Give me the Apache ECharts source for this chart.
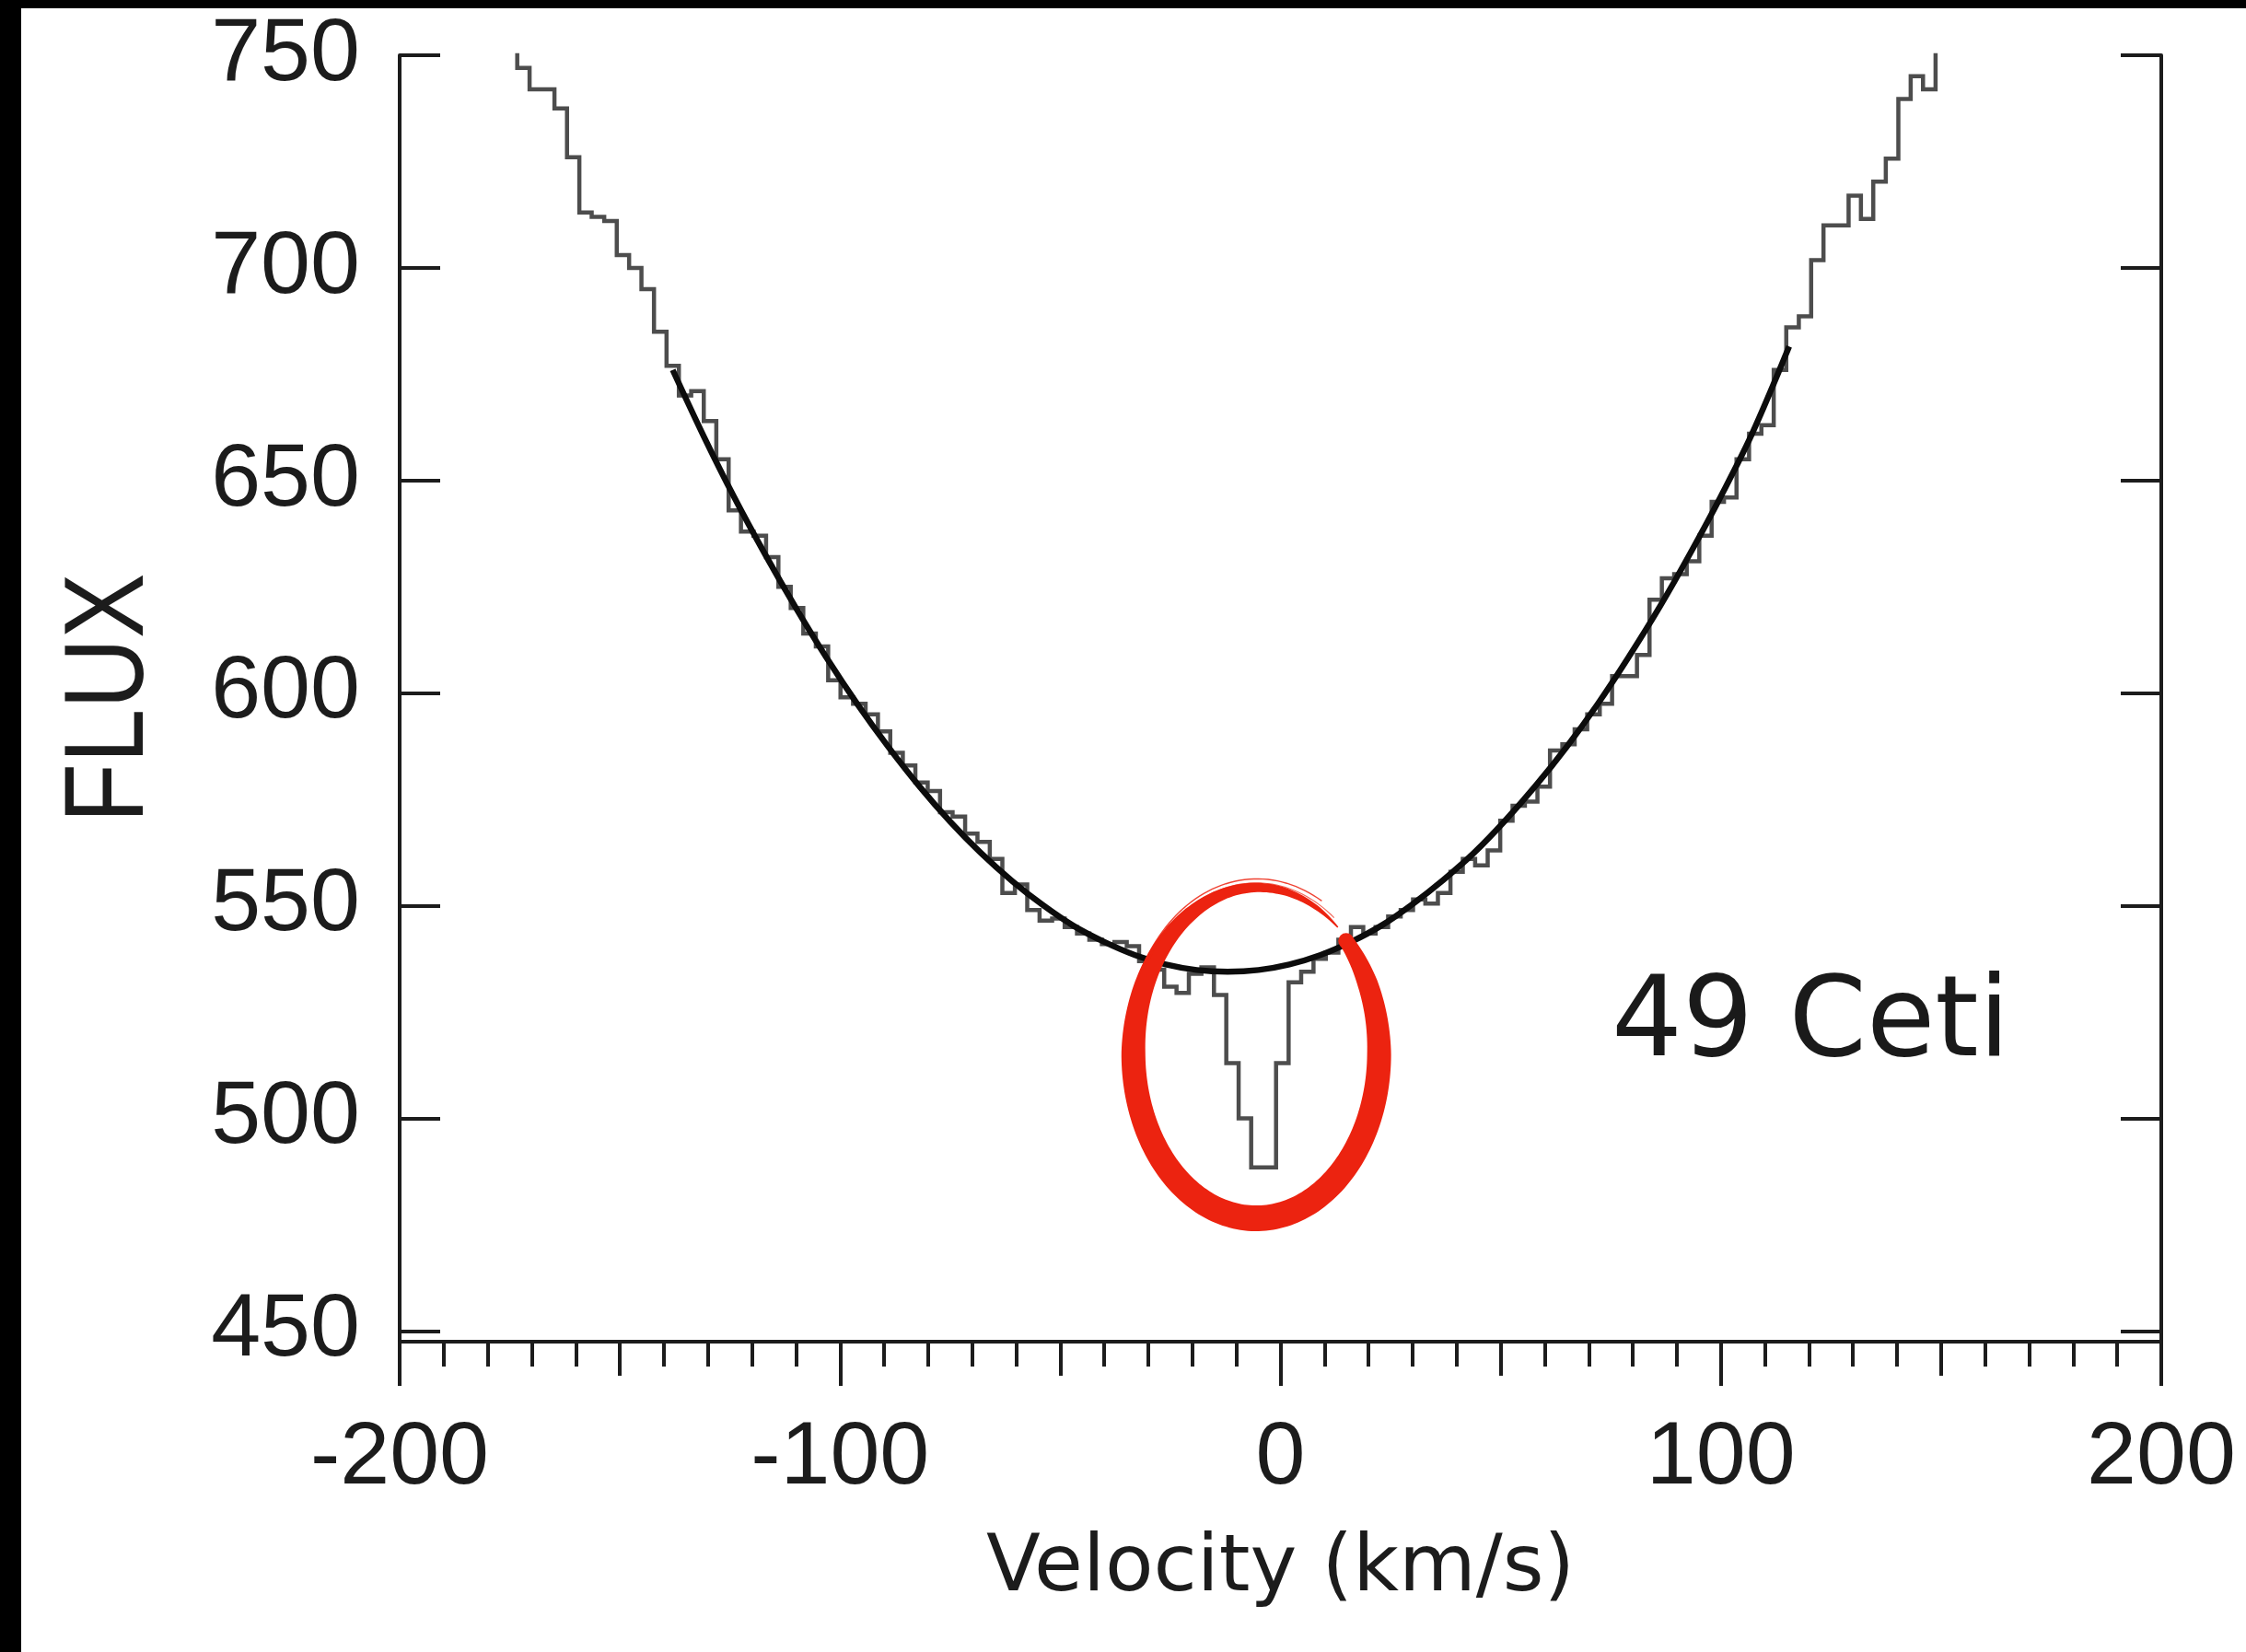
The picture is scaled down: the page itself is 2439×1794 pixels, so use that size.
<!DOCTYPE html>
<html>
<head>
<meta charset="utf-8">
<title>49 Ceti</title>
<script src="https://cdn.jsdelivr.net/npm/echarts@6/dist/echarts.min.js"></script>
<style>
  html, body { margin: 0; padding: 0; background: #ffffff; overflow: hidden; width: 2439px; height: 1794px; }
  #chart { position: absolute; left: 0; top: 0; width: 2439px; height: 1794px; }
  .band { position: absolute; background: #000000; }
</style>
</head>
<body>
<div id="chart"></div>
<div class="band" style="left:0;top:0;width:2439px;height:9px"></div>
<div class="band" style="left:0;top:0;width:23px;height:1794px"></div>
<script>
// Spectrum bins: velocity (km/s, bin centres) and measured flux
const velocity = [
  -174.7, -171.9, -169.1, -166.3, -163.4, -160.6, -157.8, -155.0, -152.1, -149.3,
  -146.5, -143.7, -140.8, -138.0, -135.2, -132.4, -129.5, -126.7, -123.9, -121.1,
  -118.2, -115.4, -112.6, -109.8, -106.9, -104.1, -101.3, -98.5, -95.6, -92.8,
  -90.0, -87.2, -84.3, -81.5, -78.7, -75.9, -73.0, -70.2, -67.4, -64.6,
  -61.7, -58.9, -56.1, -53.3, -50.4, -47.6, -44.8, -42.0, -39.1, -36.3,
  -33.5, -30.7, -27.8, -25.0, -22.2, -19.4, -16.5, -13.7, -10.9, -8.1,
  -5.2, -2.4, 0.4, 3.3, 6.1, 8.9, 11.7, 14.6, 17.4, 20.2,
  23.0, 25.9, 28.7, 31.5, 34.3, 37.2, 40.0, 42.8, 45.6, 48.5,
  51.3, 54.1, 56.9, 59.8, 62.6, 65.4, 68.2, 71.1, 73.9, 76.7,
  79.5, 82.4, 85.2, 88.0, 90.8, 93.7, 96.5, 99.3, 102.1, 105.0,
  107.8, 110.6, 113.4, 116.3, 119.1, 121.9, 124.7, 127.6, 130.4, 133.2,
  136.0, 138.9, 141.7, 144.5, 147.3, 150.2
];
const flux = [
  757, 747, 742, 742, 737.5, 726, 713, 712, 711, 703,
  700, 695, 685, 677, 670, 671, 664, 655, 643, 638,
  637, 632, 625, 620, 614, 611, 603, 599, 597.5, 595,
  591, 586, 583, 579, 577, 572, 571, 567, 565, 561,
  553, 555, 549, 546.5, 547, 545, 543.5, 542, 541, 541.5,
  540.5, 537, 535, 531, 529.5, 534, 535.5, 529, 513, 500,
  488.5, 488.5, 513, 532, 534.5, 537.5, 539, 542, 545, 543.5,
  545, 547.5, 549, 551.5, 550.5, 553, 558, 561, 559.5, 563,
  570, 573.5, 574.5, 578, 586.5, 588, 591.5, 595, 597.5, 604,
  604, 609, 622, 627, 628, 631, 637, 645, 646, 655,
  661, 663, 676, 686, 688.6, 701.8, 710, 710, 717, 711.5,
  720.3, 725.7, 739.7, 745.1, 742, 758
];

// Smooth continuum fit through the line profile
const fitVelocity = [
  -138, -131, -124, -117, -110, -103, -96, -89, -82, -75,
  -68, -61, -54, -47, -40, -33, -26, -19, -12, -5,
  2, 9, 16, 23, 30, 37, 44, 51, 58, 65,
  72, 79, 86, 93, 100, 107, 115.5
];
const fitFlux = [
  676.0, 660.5, 646.0, 632.6, 620.0, 608.2, 597.3, 587.3, 578.1, 569.8,
  562.4, 555.9, 550.2, 545.3, 541.5, 538.4, 536.2, 534.9, 534.5, 534.9,
  536.2, 538.4, 541.5, 545.4, 550.4, 556.1, 562.5, 570.0, 578.3, 587.4,
  597.4, 608.4, 620.1, 632.8, 646.3, 660.8, 681.5
];

// Axis ticks
const fluxTicks = [450, 500, 550, 600, 650, 700, 750];
const velocityMin = -200;
const velocityMax = 200;

// Circled absorption feature: [velocity, flux, half-width (km/s), half-height (flux)]
const dipRing = [[-5.5, 515.3, 27.9, 38.8]];
const starName = '49 Ceti';
const fluxTitle = 'FLUX';

const INK = '#1c1c1c';
const RED = '#ec2310';
const tickFont = "'Liberation Sans', Arial, Helvetica, sans-serif";

// Brush-like ring: thickness varies along the stroke, which runs clockwise
// from the upper right and thins out as it closes.
function renderRing(params, api) {
  const c = api.coord([api.value(0), api.value(1)]);
  const s = api.size([api.value(2), api.value(3)]);
  const rx = s[0], ry = s[1];
  const keys = [[-43, 16], [-25, 22], [0, 26], [45, 27], [90, 28], [135, 27],
                [180, 26], [225, 18], [255, 12], [280, 9], [300, 5], [311, 1.5]];
  function thick(a) {
    for (let i = 1; i < keys.length; i++) {
      if (a <= keys[i][0]) {
        const f = (a - keys[i - 1][0]) / (keys[i][0] - keys[i - 1][0]);
        return keys[i - 1][1] + f * (keys[i][1] - keys[i - 1][1]);
      }
    }
    return keys[keys.length - 1][1];
  }
  function pointAt(a, scale, off) {
    const rad = a * Math.PI / 180;
    const px = c[0] + rx * scale * Math.cos(rad);
    const py = c[1] + ry * scale * Math.sin(rad);
    let nx = Math.cos(rad) / rx, ny = Math.sin(rad) / ry;
    const nl = Math.hypot(nx, ny);
    nx /= nl; ny /= nl;
    return [px + nx * off, py + ny * off];
  }
  const outer = [], inner = [];
  for (let a = -43; a <= 311; a += 1.5) {
    const t = thick(a);
    const grow = a > 240 ? 1 + (a - 240) / 71 * 0.012 : 1;
    outer.push(pointAt(a, grow, t / 2));
    inner.push(pointAt(a, grow, -t / 2));
  }
  const ring = outer.concat(inner.reverse());
  const streakA = [], streakB = [];
  for (let a = 205; a <= 300; a += 2) {
    streakA.push(pointAt(a, 1, 9 + (a - 205) * 0.02));
    streakB.push(pointAt(a + 8, 1, 6));
  }
  const start = pointAt(-43, 1, 0);
  return {
    type: 'group',
    children: [
      { type: 'polygon', shape: { points: ring }, style: { fill: RED } },
      { type: 'circle', shape: { cx: start[0], cy: start[1], r: 8.5 }, style: { fill: RED } },
      { type: 'polyline', shape: { points: streakA }, style: { stroke: RED, lineWidth: 1.4, fill: null, opacity: 0.85 } },
      { type: 'polyline', shape: { points: streakB }, style: { stroke: RED, lineWidth: 1.1, fill: null, opacity: 0.7 } }
    ]
  };
}

const chart = echarts.init(document.getElementById('chart'), null, { renderer: 'canvas' });

const yAxisCommon = {
  type: 'value',
  min: 447.5,
  max: 750,
  splitLine: { show: false },
  axisLine: { show: true, onZero: false, lineStyle: { color: INK, width: 4 } },
  axisTick: { show: true, inside: true, length: 44, customValues: fluxTicks, lineStyle: { color: INK, width: 4 } }
};

chart.setOption({
  animation: false,
  backgroundColor: '#ffffff',
  textStyle: { fontFamily: tickFont },
  grid: { left: 434, right: 92, top: 60, bottom: 337, containLabel: false, outerBoundsMode: 'none' },
  xAxis: [
    {
      type: 'value', min: velocityMin, max: velocityMax, interval: 100, position: 'bottom',
      splitLine: { show: false },
      axisLine: { show: true, onZero: false, lineStyle: { color: INK, width: 4 } },
      axisTick: { show: true, length: 48, lineStyle: { color: INK, width: 4 } },
      minorTick: { show: true, splitNumber: 10, length: 27, lineStyle: { color: INK, width: 4 } },
      minorSplitLine: { show: false },
      axisLabel: { margin: 79, fontSize: 97, color: INK, fontFamily: tickFont, showMinLabel: true, showMaxLabel: true },
      name: 'Velocity (km/s)', nameLocation: 'middle', nameGap: 205,
      nameTextStyle: { fontSize: 86, color: INK, fontFamily: "'DejaVu Sans', Verdana, sans-serif" }
    },
    {
      type: 'value', min: velocityMin, max: velocityMax, interval: 50, position: 'bottom',
      splitLine: { show: false },
      axisLine: { show: false, onZero: false },
      axisTick: { show: true, length: 37, lineStyle: { color: INK, width: 4 } },
      axisLabel: { show: false }
    }
  ],
  yAxis: [
    Object.assign({}, yAxisCommon, {
      position: 'left',
      axisLabel: { show: true, margin: 43, customValues: fluxTicks, fontSize: 97, color: INK, fontFamily: tickFont }
    }),
    Object.assign({}, yAxisCommon, {
      position: 'right',
      axisLabel: { show: false }
    })
  ],
  series: [
    {
      name: 'Spectrum', type: 'line', step: 'middle', xAxisIndex: 0, yAxisIndex: 0,
      data: velocity.map((v, i) => [v, flux[i]]),
      symbol: 'none', showSymbol: false, clip: true, silent: true, z: 2,
      lineStyle: { color: '#4d4d4d', width: 4.5, join: 'miter' }
    },
    {
      name: 'Fit', type: 'line', smooth: 0.35, xAxisIndex: 0, yAxisIndex: 0,
      data: fitVelocity.map((v, i) => [v, fitFlux[i]]),
      symbol: 'none', showSymbol: false, clip: true, silent: true, z: 3,
      lineStyle: { color: '#0c0c0c', width: 6.5 }
    },
    {
      name: 'Feature', type: 'custom', coordinateSystem: 'cartesian2d', xAxisIndex: 0, yAxisIndex: 0,
      data: dipRing, renderItem: renderRing, silent: true, z: 10, clip: false
    }
  ],
  graphic: [
    {
      // y-axis title, set in a condensed face
      type: 'text', x: 121, y: 758, rotation: Math.PI / 2, scaleX: 0.87, z: 20,
      style: { text: fluxTitle, fontSize: 122, fontFamily: tickFont, fill: INK, align: 'center', verticalAlign: 'middle' }
    },
    {
      type: 'text', left: 1750, top: 1054, z: 20,
      style: { text: starName, fontSize: 121, fontFamily: "'DejaVu Sans', Verdana, sans-serif", fill: '#1a1a1a' }
    }
  ]
});
</script>
</body>
</html>
